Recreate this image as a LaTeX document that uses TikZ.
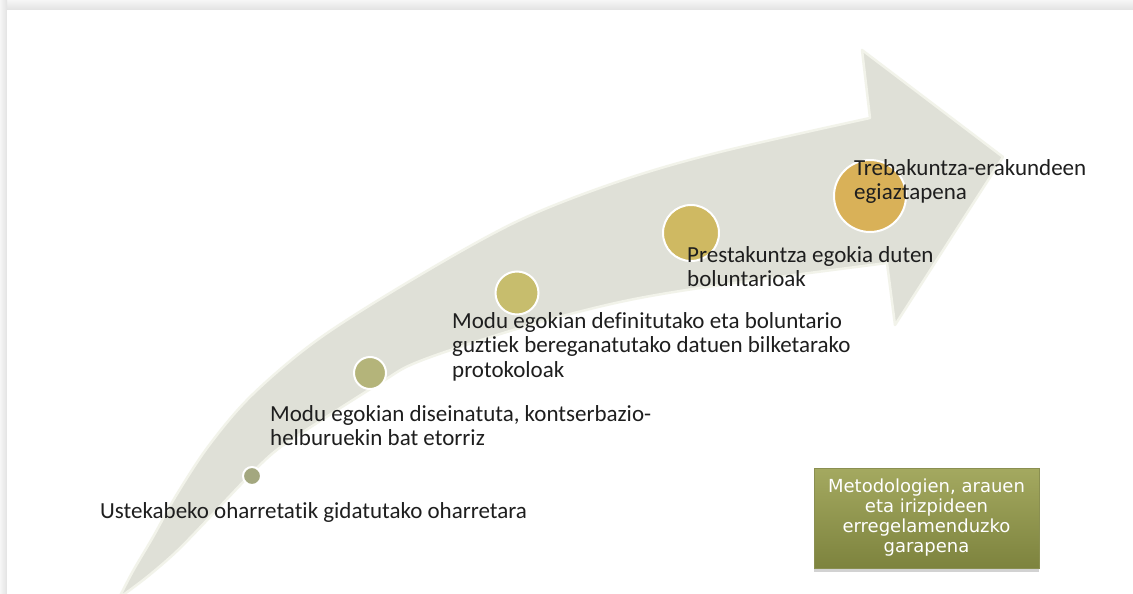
\documentclass[tikz,border=0pt]{standalone}
\usepackage{fontspec}
\setmainfont{Carlito}[Ligatures={NoCommon,NoRequired,NoContextual}]
\newfontfamily\boxfont{DejaVu Sans}
\usetikzlibrary{shadows}
\definecolor{band}{HTML}{DFE0D7}
\definecolor{bandrim}{HTML}{F2F3EA}
\definecolor{txt}{HTML}{1E1E1E}
\definecolor{cA}{HTML}{A3A77F}
\definecolor{cB}{HTML}{B4B47A}
\definecolor{cC}{HTML}{C7BD6D}
\definecolor{cD}{HTML}{CFB962}
\definecolor{cE}{HTML}{D9B158}
\definecolor{boxtop}{HTML}{A4A960}
\definecolor{boxbot}{HTML}{7D833E}
\definecolor{frameA}{HTML}{F6F6F6}
\definecolor{frameB}{HTML}{E2E2E2}
\tikzset{
  dot/.style={circle, draw=white, line width=2pt, inner sep=0pt},
  lbl/.style={anchor=base west, inner sep=0pt, text=txt,
              font=\fontsize{23}{24.5}\selectfont},
  notebox/.style={rectangle, inner sep=0pt, minimum width=225pt, minimum height=100pt,
              top color=boxtop, bottom color=boxbot, draw=boxbot!90!white, line width=0.6pt,
              drop shadow={shadow xshift=0pt, shadow yshift=-4pt, opacity=0.25, fill=black!70},
              text=white, align=center, font=\boxfont\fontsize{18}{20}\selectfont}
}
\begin{document}
\begin{tikzpicture}[x=1pt,y=-1pt]
\useasboundingbox (0,0) rectangle (1133,594);
% frame
\shade[top color=frameA, bottom color=frameB] (0,0) rectangle (1133,10);
\shade[left color=frameA, right color=frameB] (0,0) rectangle (7,594);
\fill[white] (7,10) rectangle (1133,594);
% curved arrow
\path[fill=band, draw=bandrim, line width=2.5pt, line join=round]
  plot[smooth, tension=0.55] coordinates {(119,598) (133,571) (153,537) (177,494) (210,444) (253,394) (320,338) (420,275) (520,220) (620,181) (720,152) (870,118)}
  -- (862,50) -- (1003,157) -- (895,325) -- (887,263)
  -- plot[smooth, tension=0.55] coordinates {(887,263) (720,285) (620,302) (520,328) (420,361) (380,383) (300,434) (273,453) (247,478) (210,517) (177,551) (147,577) (119,598)}
  -- cycle;
% milestones
\node[dot, fill=cA, minimum size=18pt] (d1) at (252,476) {};
\node[dot, fill=cB, minimum size=32pt] (d2) at (370,373) {};
\node[dot, fill=cC, minimum size=43pt] (d3) at (517,293) {};
\node[dot, fill=cD, minimum size=56pt] (d4) at (691,233) {};
\node[dot, fill=cE, minimum size=72pt] (d5) at (870,196) {};
% labels
\node[lbl] (l1) at (100,518) {\begin{tabular}[t]{@{}l@{}}Ustekabeko oharretatik gidatutako oharretara\end{tabular}};
\node[lbl] (l2) at (270,421) {\begin{tabular}[t]{@{}l@{}}Modu egokian diseinatuta, kontserbazio-\\helburuekin bat etorriz\end{tabular}};
\node[lbl] (l3) at (452,328) {\begin{tabular}[t]{@{}l@{}}Modu egokian definitutako eta boluntario\\guztiek bereganatutako datuen bilketarako\\protokoloak\end{tabular}};
\node[lbl] (l4) at (687,262) {\begin{tabular}[t]{@{}l@{}}Prestakuntza egokia duten\\boluntarioak\end{tabular}};
\node[lbl] (l5) at (854,175) {\begin{tabular}[t]{@{}l@{}}Trebakuntza-erakundeen\\egiaztapena\end{tabular}};
% box
\node[notebox] (box) at (926.5,518) {Metodologien, arauen\\eta irizpideen\\erregelamenduzko\\garapena};
\end{tikzpicture}
\end{document}
